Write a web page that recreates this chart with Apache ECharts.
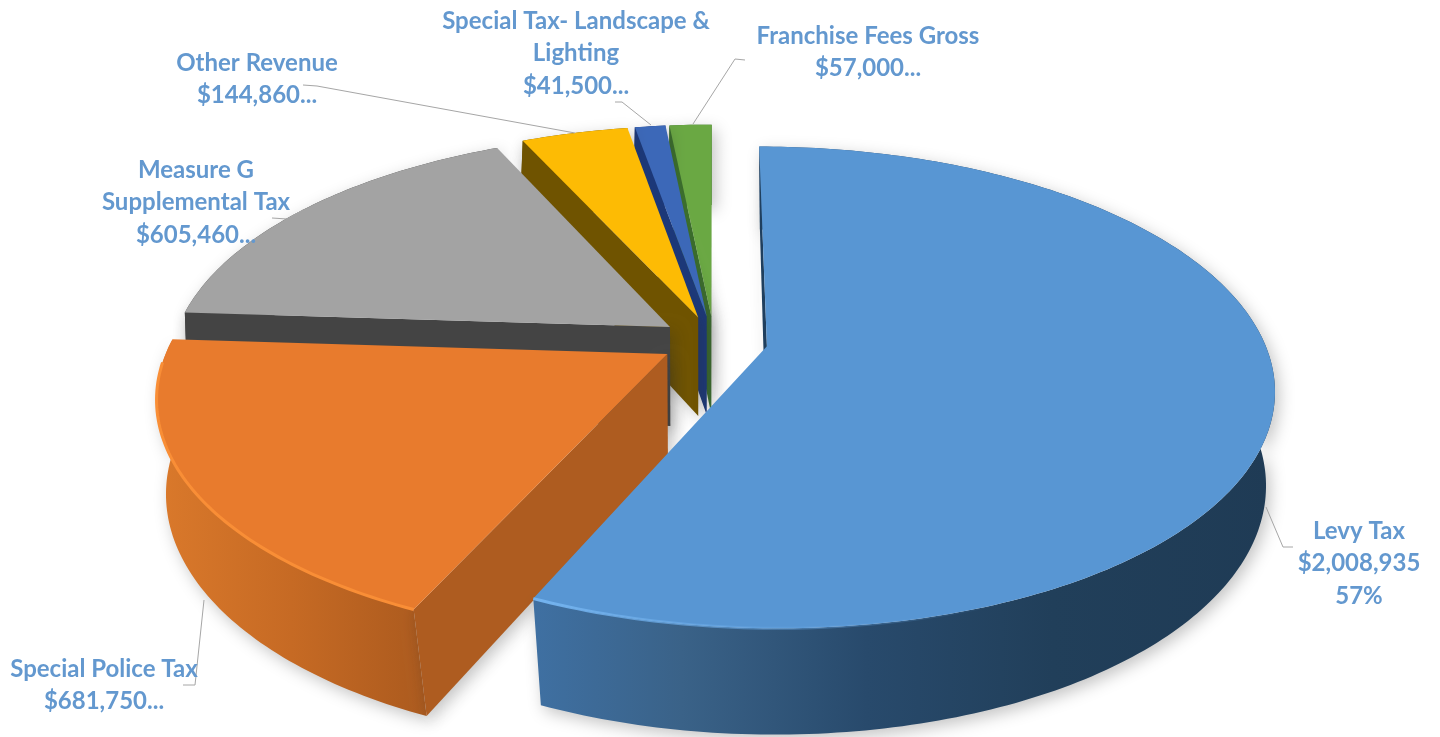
<!DOCTYPE html>
<html>
<head>
<meta charset="utf-8">
<title>Revenue by source</title>
<script src="https://cdn.jsdelivr.net/npm/echarts@6/dist/echarts.min.js"></script>
<style>
  html, body { margin: 0; padding: 0; background: #fff; }
  #chart { width: 1440px; height: 737px; }
</style>
</head>
<body>
<div id="chart"></div>
<script>
// Revenue sources, clockwise from twelve o'clock
const categories = ['Levy Tax', 'Special Police Tax', 'Measure G\nSupplemental Tax', 'Other Revenue', 'Special Tax- Landscape &\nLighting', 'Franchise Fees Gross'];
const revenue = [2008935, 681750, 605460, 144860, 41500, 57000];
const valueLabels = ['$2,008,935\n57%', '$681,750...', '$605,460...', '$144,860...', '$41,500...', '$57,000...'];

const topColors = ['#5896d3', '#e87b2d', '#a3a3a3', '#fdbb04', '#3c68b8', '#6aa843'];
const rimColors = [['#74b4f0', 'rgba(88,150,211,0)'], ['#f98e36', '#f98e36'], null, null, null, null];
const cutColors = ['#1f3f5e', '#ae5c20', '#444444', '#6f5300', '#1c3878', '#3a6d2c'];
const wallStops = [
  [[0, '#3f70a2'], [0.2, '#3a6288'], [0.45, '#284a6c'], [0.7, '#213f5a'], [1, '#1f3b55']],
  [[0, '#da792b'], [0.5, '#c66a24'], [1, '#ab5a1e']],
  [[0, '#444444'], [1, '#444444']],
  [[0, '#6f5300'], [1, '#6f5300']],
  [[0, '#1c3878'], [1, '#1c3878']],
  [[0, '#3a6d2c'], [1, '#3a6d2c']]
];

// Label placement and leader-line routing
const labelPlace = [
  { x: 1359, y: 531, leader: [[1266, 507], [1283, 547], [1293, 547]] },
  { x: 104, y: 669, leader: [[204, 600], [195, 685], [183, 685]] },
  { x: 196, y: 170, leader: [[303, 210], [287, 219], [272, 218]] },
  { x: 257, y: 63, leader: [[575, 133], [317, 86], [303, 85]] },
  { x: 576, y: 21, leader: [[651, 125], [622, 102], [615, 102]] },
  { x: 868, y: 36, leader: [[693, 124], [735, 59], [745, 60]] }
];

// Perspective disc: the top face and the lower rim are two projected circles
const view = {
  cx: 714, cy: 341, rx: 497, ry: 232, tilt: 0.17,
  lowerDrop: 100, lowerX: 0.99, lowerY: 1.06, lowerTilt: 0.14, explode: 0.1085
};
const total = revenue.reduce((a, b) => a + b, 0);
const startAngles = [];
revenue.reduce((acc, v, i) => { startAngles[i] = acc; return acc + v / total * Math.PI * 2; }, 0);

function project(u, v, lower) {
  const w = 1 - (lower ? view.lowerTilt : view.tilt) * v;
  const rx = view.rx * (lower ? view.lowerX : 1);
  const ry = view.ry * (lower ? view.lowerY : 1);
  const cy = view.cy + (lower ? view.lowerDrop : 0);
  return [view.cx + rx * u / w, cy + ry * v / w];
}
function signedArea(pts) {
  let a = 0;
  pts.forEach((p, i) => {
    const q = pts[(i + 1) % pts.length];
    a += p[0] * q[1] - q[0] * p[1];
  });
  return a / 2;
}
const softShadow = { shadowBlur: 16, shadowColor: 'rgba(40,40,40,0.28)', shadowOffsetX: 4, shadowOffsetY: 5 };

function renderSlice(params, api) {
  const i = api.value(0);
  const sweep = api.value(1) / total * Math.PI * 2;
  const a0 = startAngles[i];
  const mid = a0 + sweep / 2;
  const du = view.explode * Math.sin(mid);
  const dv = -view.explode * Math.cos(mid);
  const steps = Math.max(6, Math.round(sweep * 60));
  const rimAt = (level) => {
    const out = [];
    for (let k = 0; k <= steps; k++) {
      const a = a0 + sweep * k / steps;
      out.push(project(du + Math.sin(a), dv - Math.cos(a), level));
    }
    return out;
  };
  const topRim = rimAt(false);
  const lowRim = rimAt(true);
  const tipTop = project(du, dv, false);
  const tipLow = project(du, dv, true);
  const children = [];

  // Outer curved wall, with its soft drop shadow
  const wall = topRim.concat(lowRim.slice().reverse());
  const xs = wall.map(p => p[0]);
  children.push({
    type: 'polygon',
    shape: { points: wall },
    style: Object.assign({
      fill: {
        type: 'linear', global: true,
        x: Math.min(...xs), y: 0, x2: Math.max(...xs), y2: 0,
        colorStops: wallStops[i].map(s => ({ offset: s[0], color: s[1] }))
      }
    }, softShadow)
  });

  // Radial cut faces, drawn only when they face the viewer
  const faces = [
    [tipTop, topRim[0], lowRim[0], tipLow],
    [tipTop, tipLow, lowRim[steps], topRim[steps]]
  ];
  faces.forEach(face => {
    if (signedArea(face) < 0) {
      children.push({
        type: 'polygon',
        shape: { points: face },
        style: Object.assign({ fill: cutColors[i] }, softShadow)
      });
    }
  });

  // Top face
  children.push({
    type: 'polygon',
    shape: { points: [tipTop].concat(topRim) },
    style: { fill: topColors[i] }
  });

  // Bright bevel along the front of the rim
  if (rimColors[i]) {
    const front = [];
    for (let k = 0; k <= steps; k++) {
      const a = a0 + sweep * k / steps;
      if (-Math.cos(a) > 0.02) front.push(project(du + Math.sin(a), dv - Math.cos(a), false));
    }
    const fx = front.map(p => p[0]);
    const x0 = Math.min(...fx);
    children.push({
      type: 'polyline',
      shape: { points: front },
      style: {
        fill: null, lineWidth: 3,
        stroke: {
          type: 'linear', global: true,
          x: x0, y: 0, x2: x0 + 480, y2: 0,
          colorStops: [{ offset: 0, color: rimColors[i][0] }, { offset: 1, color: rimColors[i][1] }]
        }
      }
    });
  }

  // Leader line and label
  const place = labelPlace[i];
  children.push({
    type: 'polyline',
    shape: { points: place.leader },
    style: { fill: null, stroke: '#a6a6a6', lineWidth: 1 }
  });
  children.push({
    type: 'text',
    style: {
      x: place.x, y: place.y - 16,
      text: categories[i] + '\n' + valueLabels[i],
      align: 'center', verticalAlign: 'top',
      font: 'bold 24px Lato', lineHeight: 32.5,
      fill: '#6398cf'
    }
  });
  return { type: 'group', children };
}

// Listed back to front so nearer slices overlap the farther ones
const drawOrder = revenue.map((v, i) => [i, v]).reverse();

const chart = echarts.init(document.getElementById('chart'), null, { renderer: 'canvas' });
chart.setOption({
  animation: false,
  backgroundColor: '#ffffff',
  series: [{
    type: 'custom',
    coordinateSystem: 'none',
    renderItem: renderSlice,
    data: drawOrder,
    silent: true
  }]
});
</script>
</body>
</html>
